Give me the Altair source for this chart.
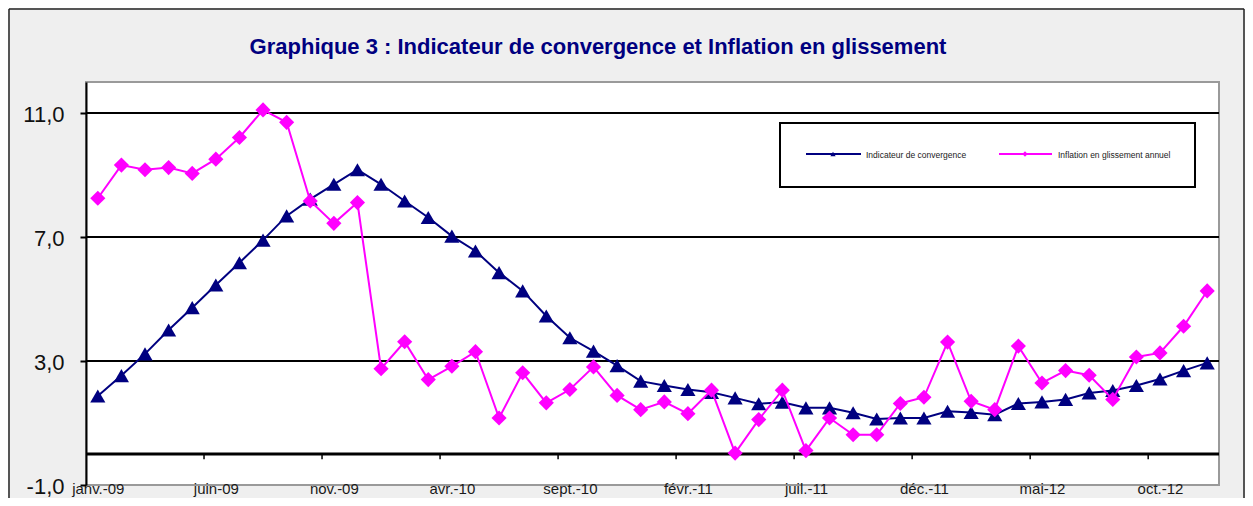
import altair as alt
import pandas as pd

months = [
    "janv.-09", "févr.-09", "mars-09", "avr.-09", "mai-09", "juin-09", "juil.-09", "août-09", "sept.-09", "oct.-09", "nov.-09", "déc.-09",
    "janv.-10", "févr.-10", "mars-10", "avr.-10", "mai-10", "juin-10", "juil.-10", "août-10", "sept.-10", "oct.-10", "nov.-10", "déc.-10",
    "janv.-11", "févr.-11", "mars-11", "avr.-11", "mai-11", "juin-11", "juil.-11", "août-11", "sept.-11", "oct.-11", "nov.-11", "déc.-11",
    "janv.-12", "févr.-12", "mars-12", "avr.-12", "mai-12", "juin-12", "juil.-12", "août-12", "sept.-12", "oct.-12", "nov.-12", "déc.-12",
]

indicateur = [1.87, 2.53, 3.23, 4.00, 4.72, 5.45, 6.17, 6.90, 7.68, 8.22, 8.70, 9.17,
              8.70, 8.16, 7.63, 7.03, 6.55, 5.85, 5.26, 4.45, 3.75, 3.32, 2.85, 2.35,
              2.21, 2.08, 1.99, 1.81, 1.62, 1.67, 1.49, 1.49, 1.33, 1.13, 1.16, 1.16,
              1.38, 1.34, 1.27, 1.63, 1.68, 1.76, 1.97, 2.05, 2.21, 2.42, 2.69, 2.94]

inflation = [8.25, 9.32, 9.17, 9.24, 9.05, 9.51, 10.21, 11.10, 10.70, 8.16, 7.44, 8.11,
             2.75, 3.62, 2.40, 2.83, 3.30, 1.16, 2.62, 1.65, 2.08, 2.81, 1.89, 1.43,
             1.68, 1.30, 2.06, 0.03, 1.11, 2.06, 0.11, 1.16, 0.62, 0.62, 1.63, 1.83,
             3.61, 1.70, 1.43, 3.48, 2.29, 2.69, 2.54, 1.76, 3.13, 3.26, 4.12, 5.26]

series_names = ["Indicateur de convergence", "Inflation en glissement annuel"]
series_colors = ["#000080", "#FF00FF"]
series_shapes = ["triangle-up", "diamond"]

tick_label_values = [0, 5, 10, 15, 20, 25, 30, 35, 40, 45]
y_ticks = [-1, 3, 7, 11]
grid_values = [3, 7, 11]

title_text = "Graphique 3 : Indicateur de convergence et Inflation en glissement"

rows = []
for name, vals in zip(series_names, [indicateur, inflation]):
    for i, v in enumerate(vals):
        rows.append({"idx": i, "mois": months[i], "serie": name, "valeur": v})
df = pd.DataFrame(rows)

W, H = 1133, 403

label_array = "[" + ",".join("'" + months[v] + "'" for v in tick_label_values) + "]"

x_enc = alt.X(
    "idx:Q",
    scale=alt.Scale(domain=[-0.5, len(months) - 0.5], nice=False, zero=False),
    axis=alt.Axis(
        values=tick_label_values,
        labelExpr=label_array + "[round(datum.value / 5)]",
        domain=False, ticks=False, grid=False, title=None,
        labelPadding=-4, labelFontSize=15, labelColor="#1a1a1a",
        labelFont="Liberation Sans",
    ),
)
y_scale = alt.Scale(domain=[-1, 12], nice=False, zero=False)
y_enc = alt.Y(
    "valeur:Q",
    scale=y_scale,
    axis=alt.Axis(
        values=y_ticks,
        labelExpr="(datum.value < 0 ? '-' : '') + replace(format(abs(datum.value), '.1f'), '.', ',')",
        grid=False, title=None,
        domainColor="black", domainWidth=2,
        tickColor="black", tickWidth=2, tickSize=6,
        labelFontSize=22, labelPadding=16, labelColor="#111111",
        labelFont="Liberation Sans", labelOffset=1,
    ),
)

color_scale = alt.Scale(domain=series_names, range=series_colors)
shape_scale = alt.Scale(domain=series_names, range=series_shapes)

base = alt.Chart(df)

layers = []
grid = alt.Chart(pd.DataFrame({"g": grid_values})).mark_rule(color="black", strokeWidth=2).encode(
    y=alt.Y("g:Q", scale=y_scale)
)
zero = alt.Chart(pd.DataFrame({"g": [0]})).mark_rule(color="black", strokeWidth=3).encode(
    y=alt.Y("g:Q", scale=y_scale)
)
tick_pos = [v - 0.5 for v in tick_label_values[1:]]
ticks = alt.Chart(pd.DataFrame({"t": tick_pos, "y0": [0] * len(tick_pos), "y1": [-0.17] * len(tick_pos)})).mark_rule(
    color="black", strokeWidth=1.5
).encode(x=alt.X("t:Q"), y=alt.Y("y0:Q", scale=y_scale), y2="y1:Q")

layers += [grid, zero, ticks]

for name in series_names:
    sub = base.transform_filter(alt.datum.serie == name)
    line = sub.mark_line(strokeWidth=2).encode(
        x=x_enc, y=y_enc,
        color=alt.Color("serie:N", scale=color_scale, legend=None),
    )
    pts = sub.mark_point(filled=True, size=230, opacity=1).encode(
        x=x_enc, y=y_enc,
        color=alt.Color("serie:N", scale=color_scale, legend=None),
        shape=alt.Shape("serie:N", scale=shape_scale, legend=None),
    )
    layers += [line, pts]

one = pd.DataFrame({"a": [0]})

leg_box = alt.Chart(one).mark_rect(fill="white", stroke="black", strokeWidth=2).encode(
    x=alt.value(694), x2=alt.value(1109), y=alt.value(41), y2=alt.value(105)
)
layers.append(leg_box)
leg_x = [(720, 775, 747, 780), (913, 966, 939, 972)]
for (x1, x2, xm, xt), name, col, shp in zip(leg_x, series_names, series_colors, series_shapes):
    layers.append(alt.Chart(one).mark_rule(color=col, strokeWidth=2).encode(
        x=alt.value(x1), x2=alt.value(x2), y=alt.value(72)))
    layers.append(alt.Chart(one).mark_point(filled=True, opacity=1, color=col, shape=shp, size=28).encode(
        x=alt.value(xm), y=alt.value(72)))
    layers.append(alt.Chart(one).mark_text(align="left", baseline="middle", fontSize=8.5,
                                           font="Liberation Sans", color="#222222").encode(
        x=alt.value(xt), y=alt.value(72.5), text=alt.value(name)))

layers.append(alt.Chart(one).mark_text(align="center", baseline="middle", fontSize=22, fontWeight="bold",
                                       font="Liberation Sans", color="#000080").encode(
    x=alt.value(512), y=alt.value(-35), text=alt.value(title_text)))

layers.append(alt.Chart(one).mark_rule(color="#222222", strokeWidth=1.5).encode(
    x=alt.value(-77), y=alt.value(-73), y2=alt.value(H + 20)))
layers.append(alt.Chart(one).mark_rule(color="#222222", strokeWidth=1.5).encode(
    x=alt.value(-77), x2=alt.value(W + 25), y=alt.value(-73)))
layers.append(alt.Chart(one).mark_rule(color="#222222", strokeWidth=1.5).encode(
    x=alt.value(W + 25), y=alt.value(-73), y2=alt.value(H + 20)))

chart = alt.layer(*layers).properties(
    width=W, height=H,
    autosize=alt.AutoSizeParams(type="none"),
    padding={"left": 78, "top": 74, "right": 26, "bottom": 13},
).configure(background="#efefef").configure_view(
    fill="white", stroke="#9a9a9a", strokeWidth=2
)

chart.save("out.html", embed_options={"renderer": "svg", "actions": False})
